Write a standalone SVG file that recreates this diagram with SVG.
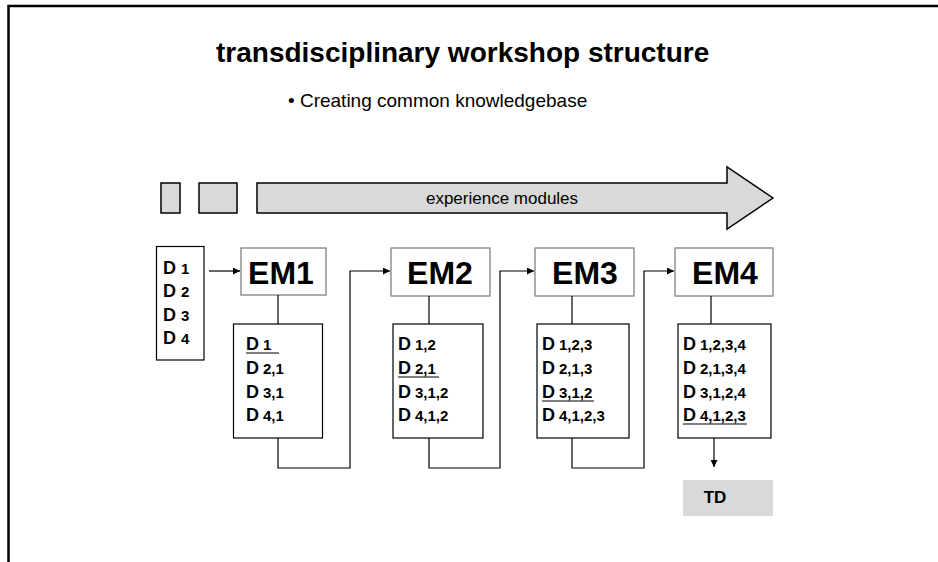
<svg xmlns="http://www.w3.org/2000/svg" width="938" height="562" viewBox="0 0 938 562">
  <defs>
    <marker id="arr" viewBox="0 0 10 10" refX="10" refY="5" markerWidth="8" markerHeight="7" markerUnits="userSpaceOnUse" orient="auto">
      <path d="M0,0 L10,5 L0,10 z" fill="#000"/>
    </marker>
    <style>
      text { font-family: "Liberation Sans", Arial, sans-serif; fill: #000; }
      .title { font-size: 28px; font-weight: bold; }
      .bullet { font-size: 19px; }
      .band { font-size: 17px; }
      .em { font-size: 32px; font-weight: bold; text-anchor: middle; }
      .d { font-size: 18px; font-weight: bold; }
      .sub { font-size: 15px; font-weight: bold; }
      .td { font-size: 17px; font-weight: bold; text-anchor: middle; }
      .grey { fill: #d9d9d9; stroke: #000; stroke-width: 1.5; }
      .embox { fill: #fff; stroke: #808080; stroke-width: 1.3; }
      .list { fill: #fff; stroke: #000; stroke-width: 1.2; }
      .ul { stroke: #000; stroke-width: 1.2; }
      .conn { fill: none; stroke: #000; stroke-width: 1.2; }
    </style>
  </defs>

  <rect width="938" height="562" fill="#fff"/>

  <!-- slide frame -->
  <path d="M8.5,562 V6 H938" fill="none" stroke="#000" stroke-width="2.5"/>

  <text class="title" x="216" y="62">transdisciplinary workshop structure</text>
  <text class="bullet" x="288" y="107">• Creating common knowledgebase</text>

  <!-- timeline band -->
  <g id="band">
    <rect class="grey" x="161" y="183" width="19" height="30"/>
    <rect class="grey" x="199" y="183" width="38" height="30"/>
    <polygon class="grey" points="257,183 727,183 727,167 773,198 727,229 727,213 257,213"/>
    <text class="band" x="502" y="204" text-anchor="middle">experience modules</text>
  </g>

  <!-- disciplines -->
  <g id="disciplines">
    <rect class="list" x="156.5" y="246.5" width="47.5" height="113.5"/>
    <text class="d" x="163" y="274">D<tspan class="sub" dx="5">1</tspan></text>
    <text class="d" x="163" y="297">D<tspan class="sub" dx="5">2</tspan></text>
    <text class="d" x="163" y="321">D<tspan class="sub" dx="5">3</tspan></text>
    <text class="d" x="163" y="344">D<tspan class="sub" dx="5">4</tspan></text>
  </g>

  <!-- EM1 -->
  <g id="em1">
    <rect class="embox" x="241" y="248" width="85" height="47"/>
    <text class="em" x="281" y="284">EM1</text>
    <rect class="list" x="233.5" y="324" width="89" height="114"/>
    <text class="d" x="246" y="350">D<tspan class="sub" dx="4">1</tspan></text>
    <line class="ul" x1="246" y1="353" x2="279" y2="353"/>
    <text class="d" x="246" y="374">D<tspan class="sub" dx="4">2,1</tspan></text>
    <text class="d" x="246" y="398">D<tspan class="sub" dx="4">3,1</tspan></text>
    <text class="d" x="246" y="421">D<tspan class="sub" dx="4">4,1</tspan></text>
  </g>

  <!-- EM2 -->
  <g id="em2">
    <rect class="embox" x="391" y="248" width="99" height="48"/>
    <text class="em" x="440" y="284">EM2</text>
    <rect class="list" x="393" y="324" width="90" height="114"/>
    <text class="d" x="398" y="350">D<tspan class="sub" dx="4">1,2</tspan></text>
    <text class="d" x="398" y="374">D<tspan class="sub" dx="4">2,1</tspan></text>
    <line class="ul" x1="398" y1="377" x2="439" y2="377"/>
    <text class="d" x="398" y="398">D<tspan class="sub" dx="4">3,1,2</tspan></text>
    <text class="d" x="398" y="421">D<tspan class="sub" dx="4">4,1,2</tspan></text>
  </g>

  <!-- EM3 -->
  <g id="em3">
    <rect class="embox" x="535" y="248" width="99" height="48"/>
    <text class="em" x="585" y="284">EM3</text>
    <rect class="list" x="537" y="324" width="92" height="114"/>
    <text class="d" x="542" y="350">D<tspan class="sub" dx="4">1,2,3</tspan></text>
    <text class="d" x="542" y="374">D<tspan class="sub" dx="4">2,1,3</tspan></text>
    <text class="d" x="542" y="398">D<tspan class="sub" dx="4">3,1,2</tspan></text>
    <line class="ul" x1="542" y1="401" x2="594" y2="401"/>
    <text class="d" x="542" y="421">D<tspan class="sub" dx="4">4,1,2,3</tspan></text>
  </g>

  <!-- EM4 -->
  <g id="em4">
    <rect class="embox" x="675" y="248" width="98" height="48"/>
    <text class="em" x="725" y="284">EM4</text>
    <rect class="list" x="678" y="324" width="93" height="114"/>
    <text class="d" x="683" y="350">D<tspan class="sub" dx="4">1,2,3,4</tspan></text>
    <text class="d" x="683" y="374">D<tspan class="sub" dx="4">2,1,3,4</tspan></text>
    <text class="d" x="683" y="398">D<tspan class="sub" dx="4">3,1,2,4</tspan></text>
    <text class="d" x="683" y="421">D<tspan class="sub" dx="4">4,1,2,3</tspan></text>
    <line class="ul" x1="683" y1="424" x2="747" y2="424"/>
  </g>

  <!-- result -->
  <g id="td">
    <rect x="683" y="480" width="90" height="36" fill="#d9d9d9"/>
    <text class="td" x="715" y="503">TD</text>
  </g>

  <!-- connectors -->
  <g id="connectors">
    <line class="conn" x1="209" y1="271" x2="240" y2="271" marker-end="url(#arr)"/>
    <line class="conn" x1="278" y1="295" x2="278" y2="324"/>
    <path class="conn" d="M278,438 V468 H350 V271 H390" marker-end="url(#arr)"/>
    <line class="conn" x1="429" y1="296" x2="429" y2="324"/>
    <path class="conn" d="M429,438 V468 H500 V271 H534" marker-end="url(#arr)"/>
    <line class="conn" x1="572" y1="296" x2="572" y2="324"/>
    <path class="conn" d="M572,438 V468 H644 V271 H674" marker-end="url(#arr)"/>
    <line class="conn" x1="711" y1="296" x2="711" y2="324"/>
    <line class="conn" x1="714" y1="438" x2="714" y2="467" marker-end="url(#arr)"/>
  </g>
</svg>
